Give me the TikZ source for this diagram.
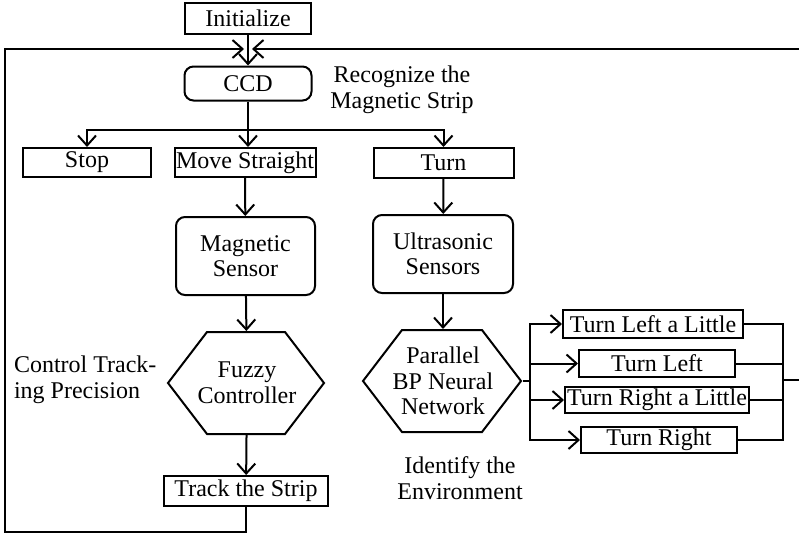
\documentclass[tikz,border=0pt]{standalone}
\usepackage{fontspec}
\setmainfont{Liberation Serif}
\usetikzlibrary{arrows.meta}

\begin{document}
\begin{tikzpicture}[x=1pt,y=-1pt,
  every node/.style={font=\fontsize{24}{25.5}\selectfont,inner sep=0pt,align=center},
  every path/.style={line width=2pt},
  box/.style={draw,minimum height=29pt},
  rbox/.style={draw,rounded corners=9pt,minimum width=139pt,minimum height=78pt},
  hexa/.style={minimum width=156pt,minimum height=102pt},
  >={Straight Barb[length=10pt,width=18pt]}]
\useasboundingbox (0,0) rectangle (799,535);
\node[box,minimum width=126pt,minimum height=31pt] (init) at (248,18.5) {Initialize};
\node[rbox,minimum width=127pt,minimum height=34pt] (ccd) at (248,83.5) {CCD};
\node (rec) at (402,90) {Recognize the\\Magnetic Strip};
\node[box,minimum width=128pt] (stop) at (87,162.5) {Stop};
\node[box,minimum width=141pt] (move) at (245,162.5) {Move Straight};
\node[box,minimum width=140pt,minimum height=30pt] (turn) at (443.5,163) {Turn};
\node[rbox] (mag) at (245.5,256) {Magnetic\\Sensor};
\node[rbox,minimum width=140pt] (ult) at (443,254) {Ultrasonic\\Sensors};
\node[hexa] (fz) at (247,383) {Fuzzy\\Controller};
\node[hexa,minimum width=158pt] (bp) at (443,381) {Parallel\\BP Neural\\Network};
\node[box,minimum width=164pt,minimum height=30pt] (track) at (246,491) {Track the Strip};
\node[anchor=west,align=left] (ctrl) at (13,380) {Control Track-\\ing Precision};
\node (ident) at (460,478) {Identify the\\Environment};
\node[box,minimum width=180pt,minimum height=28pt] (tl1) at (653,324) {Turn Left a Little};
\node[box,minimum width=156pt,minimum height=27pt] (tl) at (657,363.5) {Turn Left};
\node[box,minimum width=184pt,minimum height=26pt] (tr1) at (657,400) {Turn Right a Little};
\node[box,minimum width=156pt,minimum height=26pt] (tr) at (659,440) {Turn Right};
\coordinate (split) at (248,130);
\coordinate (lp) at (5,532);
\coordinate (jl) at (244,49);
\coordinate (jr) at (252,49);
\coordinate (rin) at (799,49);
\coordinate (fork) at (530,381);
\coordinate (join) at (783,380);
\coordinate (out) at (799,380);
\draw (fz.west) -- ++(39,-51) -- ++(78,0) -- ++(39,51) -- ++(-39,51) -- ++(-78,0) -- cycle;
\draw (bp.west) -- ++(39,-51) -- ++(80,0) -- ++(39,51) -- ++(-39,51) -- ++(-80,0) -- cycle;
\draw[->] (init) -- (ccd);
\draw (ccd) -- (split);
\draw[->] (split) -| (stop);
\draw[->] (split) -- (split |- move.north);
\draw[->] (split) -| (turn);
\draw[->] (move) -- (mag);
\draw[->] (turn) -- (ult);
\draw[->] (mag) -- (fz);
\draw[->] (ult) -- (bp);
\draw[->] (fz) -- (track);
\draw[->] (track.south) |- (lp) |- (jl);
\draw[->] (rin) -- (jr);
\draw (bp.east) -- (fork);
\draw[->] (fork) |- (tl1);
\draw[->] (fork) |- (tl);
\draw[->] (fork) |- (tr1);
\draw[->] (fork) |- (tr);
\draw (tl1) -| (join);
\draw (tl) -| (join);
\draw (tr1) -| (join);
\draw (tr) -| (join);
\draw (join) -- (out);
\end{tikzpicture}
\end{document}
